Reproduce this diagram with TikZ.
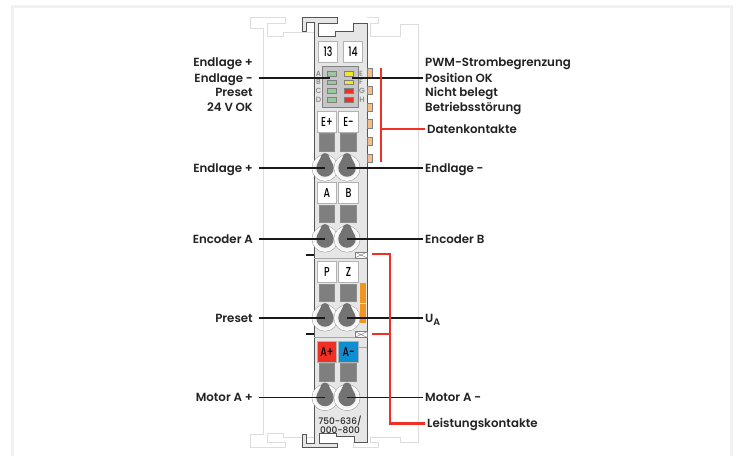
\documentclass[tikz,border=0pt]{standalone}
\usepackage{fontspec}
\setmainfont{Poppins SemiBold}
\newfontfamily\markfont{Poppins Medium}
\definecolor{frameband}{HTML}{F1F1F1}
\definecolor{ghostline}{HTML}{DDDDDD}
\definecolor{housing}{HTML}{E6E6E6}
\definecolor{housingline}{HTML}{555555}
\definecolor{fieldgray}{HTML}{7F7F7F}
\definecolor{screwgray}{HTML}{737373}
\definecolor{wagored}{HTML}{EE3124}
\definecolor{wagoblue}{HTML}{0F8FD2}
\definecolor{wagoorange}{HTML}{F0961E}
\definecolor{tabcolor}{HTML}{F3BE8A}
\definecolor{ledgreen}{HTML}{98C8A0}
\definecolor{ledyellow}{HTML}{F6E61E}
\definecolor{labeltext}{HTML}{222222}
\tikzset{
  lbl/.style={font=\fontsize{11.8}{12}\selectfont, text=labeltext, text height=9.5pt, text depth=1.5pt, inner ysep=0pt},
  lblleft/.style={lbl, anchor=east, inner xsep=6pt},
  lblright/.style={lbl, anchor=west, inner xsep=2pt},
  marker/.style={draw=gray!60, line width=.6pt, fill=white, minimum width=19.5pt, minimum height=21pt, inner sep=0pt, font=\markfont\fontsize{13}{13}\selectfont, text=black},
  field/.style={draw=gray!90, line width=.5pt, fill=fieldgray, minimum width=15.5pt, minimum height=17.5pt, inner sep=0pt},
  led/.style={draw=gray, line width=.5pt, minimum width=9pt, minimum height=4.8pt, inner sep=0pt},
  tab/.style={draw=gray, line width=.5pt, fill=tabcolor, minimum width=5pt, minimum height=8.5pt, inner sep=0pt},
  letter/.style={font=\markfont\fontsize{7.5}{8}\selectfont, text=gray, inner sep=0pt},
  slot/.style={draw=gray, line width=.5pt, fill=white, minimum width=12.5pt, minimum height=6pt, inner sep=0pt, path picture={\draw[gray, line width=.5pt] (path picture bounding box.south west) -- (path picture bounding box.north east) (path picture bounding box.north west) -- (path picture bounding box.south east);}},
  ghost/.style={draw=ghostline, line width=1pt},
  wire/.style={draw=black!90, line width=1.3pt},
  redwire/.style={draw=wagored, line width=2.5pt},
  screw/.pic={
    \draw[draw=gray!80, line width=.7pt] (0,0) circle (13);
    \draw[draw=white, line width=1.6pt, fill=white!55!housing] (0,0) circle (12);
    \fill[screwgray] (0,-10.5) circle (4.5);
    \fill[screwgray] (-4.5,-10.5) -- (4.5,-10.5) -- (8,-3) -- (-8,-3) -- cycle;
    \node[circle, fill=screwgray, minimum size=17.5pt, inner sep=0pt] (-c) at (0,0) {};
  }
}
\newcommand{\mrk}[1]{\scalebox{.72}[1]{#1}}
\begin{document}
\begin{tikzpicture}[x=1pt, y=-1pt]
  \useasboundingbox (0,0) rectangle (739,456);
  % frame band
  \fill[frameband] (11,5) rectangle (733,456);
  \fill[white] (14,8) rectangle (730,456);
  % neighbouring modules
  \draw[ghost] (314,32) -- (283,32) -- (283,36) -- (267,36) -- (267,23) -- (285,23) -- (285,17) -- (250,17) -- (250,28) -- (263,28) -- (263,434) -- (250,434) -- (250,447) -- (285,447) -- (285,442) -- (267,442) -- (267,433) -- (283,433) -- (283,437) -- (314,437);
  \draw[ghost] (367,17) -- (378,17) -- (378,23) -- (370,23) -- (370,36) -- (400,36) -- (400,24) -- (418,24) -- (418,442) -- (400,442) -- (400,437) -- (370,437) -- (370,442) -- (378,442) -- (378,447) -- (353,447) -- (353,442);
  % housing
  \draw[draw=housingline, line width=1pt, fill=housing] (302,31) -- (302,17) -- (337,17) -- (337,23) -- (318,23) -- (318,36) -- (335,36) -- (335,31) -- (353,31) -- (353,23) -- (367,23) -- (367,442) -- (354,442) -- (354,436) -- (336,436) -- (336,433) -- (319,433) -- (319,443) -- (337,443) -- (337,447) -- (302,447) -- (302,434) -- (306,434) -- (306,443) -- (314,443) -- (314,22) -- (306,22) -- (306,31) -- cycle;
  \draw[gray!70, line width=.5pt] (314,258) -- (367,258);
  \draw[gray!70, line width=.5pt] (314,337) -- (367,337);
  \draw[gray!70, line width=.5pt] (358,347) -- (367,347);
  % marker fields
  \node[marker] (m13) at (328,51.5) {\mrk{13}};
  \node[marker] (m14) at (353,51.5) {\mrk{14}};
  \node[marker] (mEp) at (327,121.5) {\mrk{E+}};
  \node[marker] (mEm) at (348.5,121.5) {\mrk{E-}};
  \node[marker] (mA) at (327,193) {\mrk{A}};
  \node[marker] (mB) at (348.5,193) {\mrk{B}};
  \node[marker] (mP) at (327,272) {\mrk{P}};
  \node[marker] (mZ) at (348.5,272) {\mrk{Z}};
  \node[marker, fill=wagored] (mAp) at (327,351.5) {\mrk{A+}};
  \node[marker, fill=wagoblue] (mAm) at (348.5,351.5) {\mrk{A-}};
  % gray fields
  \node[field] (f1) at (326.5,142) {};
  \node[field] (f2) at (348,142) {};
  \node[field] (f3) at (326.5,213.5) {};
  \node[field] (f4) at (348,213.5) {};
  \node[field] (f5) at (326.5,292.5) {};
  \node[field] (f6) at (348,292.5) {};
  \node[field] (f7) at (326.5,372) {};
  \node[field] (f8) at (348,372) {};
  % led block
  \node[draw=gray, line width=.5pt, fill=gray!45, minimum width=36pt, minimum height=41pt, inner sep=0pt] (ledblock) at (340,86.5) {};
  \node[led, fill=ledgreen] (la) at (331.5,73.5) {};
  \node[led, fill=ledgreen] (lb) at (331.5,82.3) {};
  \node[led, fill=ledgreen] (lc) at (331.5,91) {};
  \node[led, fill=ledgreen] (ld) at (331.5,99.5) {};
  \node[led, fill=ledyellow] (le) at (348.5,73.5) {};
  \node[led, fill=ledyellow] (lf) at (348.5,82.3) {};
  \node[led, fill=wagored] (lg) at (348.5,91) {};
  \node[led, fill=wagored] (lh) at (348.5,99.5) {};
  \node[letter] (ta) at (318.5,73.5) {A};
  \node[letter] (tb) at (318.5,82.3) {B};
  \node[letter] (tc) at (318.5,91) {C};
  \node[letter] (td) at (318.5,99.5) {D};
  \node[letter] (te) at (361,73.5) {E};
  \node[letter] (tf) at (361,82.3) {F};
  \node[letter] (tg) at (362,91) {G};
  \node[letter] (th) at (362,99.5) {H};
  % contact tabs
  \node[tab] (t1) at (369.5,72.5) {};
  \node[tab] (t2) at (369.5,90) {};
  \node[tab] (t3) at (369.5,107) {};
  \node[tab] (t4) at (369.5,123.5) {};
  \node[tab] (t5) at (369.5,141) {};
  \node[tab] (t6) at (369.5,158) {};
  % orange strip
  \fill[wagoorange] (360,283) rectangle (366,323);
  \draw[white!70!wagoorange, line width=.5pt] (360,303) -- (366,303);
  % slots
  \node[slot] (slotA) at (361,255) {};
  \node[slot] (slotB) at (361,334.5) {};
  \coordinate (dashA) at (306,255);
  \coordinate (dashAe) at (314,255);
  \coordinate (dashB) at (306,334);
  \coordinate (dashBe) at (314,334);
  \draw[wire] (dashA) -- (dashAe);
  \draw[wire] (dashB) -- (dashBe);
  % screws
  \pic (s1) at (325,168) {screw};
  \pic (s2) at (347,168) {screw};
  \pic (s3) at (325,239) {screw};
  \pic (s4) at (347,239) {screw};
  \pic (s5) at (325,318) {screw};
  \pic (s6) at (347,318) {screw};
  \pic (s7) at (325,397.5) {screw};
  \pic (s8) at (347,397.5) {screw};
  % type number
  \node[font=\markfont\fontsize{9}{7.5}\selectfont, align=center, text=black!85, inner sep=0pt] (typ) at (340,424.5) {750-636/\\000-800};
  % labels
  \node[lblleft] (lEndA) at (259,62) {Endlage +};
  \node[lblleft] (lEndB) at (259,78) {Endlage -};
  \node[lblleft] (lPre) at (259,92.5) {Preset};
  \node[lblleft] (lOk) at (259,107) {24 V OK};
  \node[lblleft] (lEndC) at (259,168) {Endlage +};
  \node[lblleft] (lEncA) at (259,239) {Encoder A};
  \node[lblleft] (lPreB) at (259,318) {Preset};
  \node[lblleft] (lMotA) at (259,397.5) {Motor A +};
  \node[lblright] (rPwm) at (423,62) {PWM-Strombegrenzung};
  \node[lblright] (rPos) at (423,78) {Position OK};
  \node[lblright] (rNb) at (423,92.5) {Nicht belegt};
  \node[lblright] (rBet) at (423,107) {Betriebsstörung};
  \node[lblright] (rDat) at (425,129) {Datenkontakte};
  \node[lblright] (rEnd) at (423,168) {Endlage -};
  \node[lblright] (rEnc) at (423,239) {Encoder B};
  \node[lblright] (rUa) at (423,318) {U\raisebox{-3pt}{\fontsize{9.5}{10}\selectfont A}};
  \node[lblright] (rMot) at (423,397.5) {Motor A -};
  \node[lblright] (rLei) at (425,423.5) {Leistungskontakte};
  % connectors
  \coordinate (ledL) at (330,78);
  \coordinate (ledR) at (352,78);
  \begin{scope}[wire]
    \draw (lEndB.east) -- (ledL);
    \draw (rPos.west) -- (ledR);
    \draw (lEndC.east) -- (s1-c.center);
    \draw (rEnd.west) -- (s2-c.center);
    \draw (lEncA.east) -- (s3-c.center);
    \draw (rEnc.west) -- (s4-c.center);
    \draw (lPreB.east) -- (s5-c.center);
    \draw (rUa.west) -- (s6-c.center);
    \draw (lMotA.east) -- (s7-c.center);
    \draw (rMot.west) -- (s8-c.center);
  \end{scope}
  % red brackets
  \coordinate (datTop) at (381,68);
  \coordinate (datBot) at (381,162);
  \coordinate (datMid) at (381,129);
  \coordinate (leiTop) at (372,254);
  \coordinate (leiCorner) at (390,254);
  \coordinate (leiMid) at (372,334);
  \coordinate (leiJoin) at (390,334);
  \coordinate (leiBot) at (390,423.5);
  \draw[redwire, line width=1.3pt] (datTop) -- (datBot);
  \draw[redwire, line width=1.8pt] (datMid) -- (rDat.west);
  \draw[redwire] (leiTop) -- (leiCorner) -- (leiBot) -- (rLei.west);
  \draw[redwire] (leiMid) -- (leiJoin);
\end{tikzpicture}
\end{document}
